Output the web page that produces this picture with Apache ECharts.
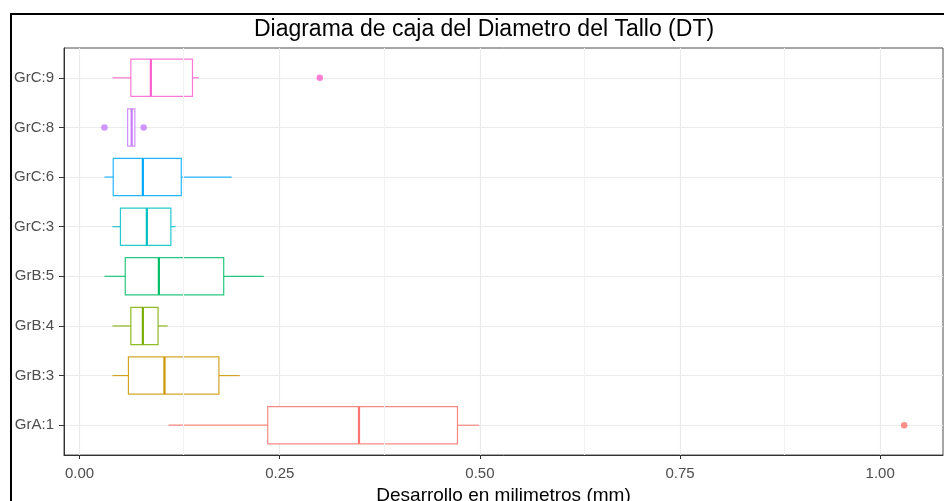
<!DOCTYPE html>
<html><head><meta charset="utf-8">
<script src="https://cdn.jsdelivr.net/npm/echarts@6/dist/echarts.min.js"></script>
<style>html,body{margin:0;padding:0;background:#fff;overflow:hidden}#c{width:944px;height:501px}</style>
</head><body><div id="c"></div><script>
const categories = ['GrA:1','GrB:3','GrB:4','GrB:5','GrC:3','GrC:6','GrC:8','GrC:9'];
const whiskerLow  = [0.111,0.041,0.041,0.031,0.041,0.031,0.060,0.041];
const q1          = [0.235,0.061,0.064,0.057,0.051,0.042,0.060,0.064];
const median      = [0.349,0.106,0.079,0.099,0.084,0.079,0.065,0.089];
const q3          = [0.472,0.174,0.098,0.180,0.114,0.127,0.069,0.141];
const whiskerHigh = [0.499,0.200,0.110,0.230,0.120,0.190,0.069,0.149];
const outlierGroup = ['GrA:1','GrC:8','GrC:8','GrC:9'];
const outlierValue = [1.03,0.031,0.080,0.300];
const colors = ['#F8766D','#CD9600','#7CAE00','#00BE67','#00BFC4','#00A9FF','#C77CFF','#FF61CC'];
const xTicks = [0,0.25,0.5,0.75,1.0];
const xMinor = [0.125,0.375,0.625,0.875];
const yPositions = categories.map((c,i)=>i+1);

const FONT = "'Liberation Sans', Arial, sans-serif";
const chart = echarts.init(document.getElementById('c'), null, {renderer:'canvas'});

const boxData = categories.map((c,i)=>[i+1, whiskerLow[i], q1[i], median[i], q3[i], whiskerHigh[i]]);
const outData = outlierGroup.map((g,k)=>{
  const idx = categories.indexOf(g);
  return {value:[outlierValue[k], idx+1], itemStyle:{color:colors[idx]}};
});

chart.setOption({
  animation:false,
  backgroundColor:'#fff',
  graphic:[
    {type:'rect', silent:true, z:100, shape:{x:11,y:14,width:1000,height:600}, style:{fill:'none', stroke:'#000', lineWidth:2}},
    {type:'text', silent:true, x:484, y:30, style:{text:'Diagrama de caja del Diametro del Tallo (DT)', font:'23px '+FONT, fill:'#000', textAlign:'center', textVerticalAlign:'middle'}}
  ],
  grid:{left:64, right:1, top:48, bottom:46, show:true, borderColor:'#4d4d4d', borderWidth:1, backgroundColor:'transparent', containLabel:false, outerBoundsMode:'none'},
  xAxis:{
    type:'value', min:-0.0195, max:1.0785,
    axisLine:{show:true, onZero:false, lineStyle:{color:'#333', width:1}},
    axisTick:{show:true, customValues:xTicks, length:4, lineStyle:{color:'#333'}},
    axisLabel:{customValues:xTicks, formatter:v=>Number(v).toFixed(2), color:'#4D4D4D', fontSize:15, fontFamily:FONT, margin:11},
    splitLine:{show:true, lineStyle:{color:'#EBEBEB', width:1.2}},
    name:'Desarrollo en milimetros (mm)', nameLocation:'middle', nameGap:29,
    nameTextStyle:{fontSize:19, color:'#000', fontFamily:FONT}
  },
  yAxis:{
    type:'value', min:0.4, max:8.6,
    axisLine:{show:true, onZero:false, lineStyle:{color:'#333', width:1}},
    axisTick:{show:true, customValues:yPositions, length:5, lineStyle:{color:'#333'}},
    axisLabel:{customValues:yPositions, formatter:v=>categories[Math.round(v)-1], color:'#4D4D4D', fontSize:15, fontFamily:FONT, margin:10},
    splitLine:{show:true, lineStyle:{color:'#EBEBEB', width:1.2}}
  },
  series:[
    {type:'line', data:[], z:1, silent:true,
     markLine:{silent:true, symbol:['none','none'], label:{show:false}, animation:false,
       lineStyle:{color:'#F2F2F2', width:1, type:'solid'},
       data:xMinor.map(v=>({xAxis:v}))}},
    {type:'custom', z:2, data:boxData, encode:{y:0, x:[1,2,3,4,5]},
     renderItem:function(params, api){
       const y = api.value(0);
       const i = Math.round(y)-1;
       const col = colors[i];
       const pLo = api.coord([api.value(1), y]);
       const pQ1 = api.coord([api.value(2), y]);
       const pMd = api.coord([api.value(3), y]);
       const pQ3 = api.coord([api.value(4), y]);
       const pHi = api.coord([api.value(5), y]);
       const hh = api.size([0,1])[1]*0.375;
       const thin = {stroke:col, lineWidth:1.2, opacity:0.85, fill:null};
       return {type:'group', children:[
         {type:'line', shape:{x1:pLo[0],y1:pLo[1],x2:pQ1[0],y2:pQ1[1]}, style:thin},
         {type:'line', shape:{x1:pQ3[0],y1:pQ3[1],x2:pHi[0],y2:pHi[1]}, style:thin},
         {type:'rect', shape:{x:pQ1[0], y:pQ1[1]-hh, width:pQ3[0]-pQ1[0], height:2*hh}, style:{stroke:col, lineWidth:1.2, fill:'#fff', opacity:1, strokeOpacity:0.85}},
         {type:'line', shape:{x1:pMd[0],y1:pMd[1]-hh,x2:pMd[0],y2:pMd[1]+hh}, style:{stroke:col, lineWidth:2.2}}
       ]};
     }},
    {type:'scatter', z:3, data:outData, symbol:'circle', symbolSize:6.5, silent:true}
  ]
});
</script></body></html>
